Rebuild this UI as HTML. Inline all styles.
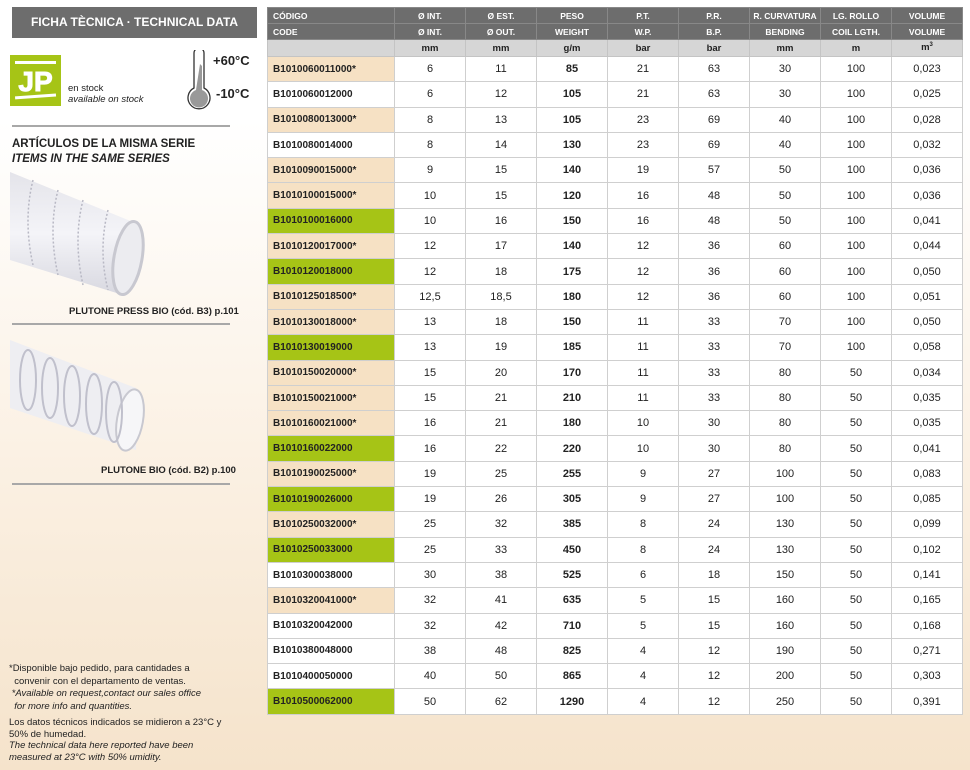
<!DOCTYPE html>
<html><head><meta charset="utf-8"><style>
*{margin:0;padding:0;box-sizing:border-box}
body{width:970px;height:770px;overflow:hidden;position:relative;font-family:"Liberation Sans",sans-serif;background:linear-gradient(#ffffff 0px,#ffffff 120px,#fbf1e4 450px,#f5e3cb 770px);}
.hd{position:absolute;left:12px;top:7px;width:245px;height:31px;background:#6d6d6d;color:#fff;font-weight:bold;font-size:12px;line-height:31px;text-align:center}
.jp{position:absolute;left:10px;top:55px;width:51px;height:51px;background:#a6c416}
.hr{position:absolute;left:12px;width:218px;height:2px;background:#a8a8a8}
.t{position:absolute;color:#222}
table{position:absolute;left:267px;top:7px;border-collapse:collapse;table-layout:fixed;font-size:11px}
td{border:1px solid #cfcfcf;text-align:center;color:#222;height:25.3px;background:#fff;overflow:hidden;white-space:nowrap}
tr.h td{background:#6d6d6d;color:#fff;font-weight:bold;font-size:8.5px;height:16px;border-color:#888}
tr.u td{background:#d6d6d6;font-weight:bold;font-size:9.5px;height:17px;border-color:#c4c4c4}
td.c{text-align:left;padding-left:5px;font-weight:bold;font-size:10px}
td.s{background:#f6e1c4}
td.g{background:#a6c416}
td.b{font-weight:bold}
</style></head><body>
<div class="hd">FICHA TÈCNICA · TECHNICAL DATA</div>
<div class="jp"><svg width="51" height="51" viewBox="0 0 51 51"><rect x="5" y="6" width="41" height="3" fill="#fff"/><text x="25.5" y="36" text-anchor="middle" font-family="Liberation Sans" font-weight="bold" font-size="28" fill="#fff" stroke="#fff" stroke-width="1">JP</text><rect x="5" y="40" width="41" height="3" fill="#fff" transform="rotate(-4 25 41)"/></svg></div>
<div class="t" style="left:68px;top:83px;font-size:9.5px;line-height:11px">en stock<br><i>available on stock</i></div>
<svg style="position:absolute;left:184px;top:50px" width="30" height="62" viewBox="0 0 30 62"><path d="M10 3 a5 5 0 0 1 10 0 V38 a11 11 0 1 1 -10 0 Z" fill="#fff" stroke="#333" stroke-width="1.3"/><path d="M16 14 L18 16 V40 a9 9 0 1 1 -6 0 Z" fill="#999"/></svg>
<div class="t" style="left:213px;top:53px;font-size:13px;font-weight:bold">+60°C</div>
<div class="t" style="left:216px;top:86px;font-size:13px;font-weight:bold">-10°C</div>
<div class="hr" style="top:125px"></div>
<div class="t" style="left:12px;top:137px;font-size:11.5px;font-weight:bold;line-height:15px">ARTÍCULOS DE LA MISMA SERIE<br><i>ITEMS IN THE SAME SERIES</i></div>
<svg style="position:absolute;left:8px;top:170px" width="140" height="135"><defs><linearGradient id="g1" x1="0" y1="0" x2="0" y2="1"><stop offset="0" stop-color="#e4e4ea"/><stop offset="0.5" stop-color="#f4f4f8"/><stop offset="1" stop-color="#d8d8e0"/></linearGradient></defs><polygon points="2,2 125,52 115,125 2,90" fill="url(#g1)"/><ellipse cx="120" cy="88" rx="14" ry="37" fill="#ececf0" stroke="#c8c8d0" stroke-width="3" transform="rotate(10 120 88)"/><g stroke="#b8b8c4" stroke-width="1.5" stroke-dasharray="2 2" fill="none"><path d="M25 10 q-10 40 0 85"/><path d="M50 20 q-10 40 0 85"/><path d="M75 30 q-10 40 0 85"/><path d="M100 40 q-10 40 0 80"/></g></svg>
<div class="t" style="left:69px;top:306px;font-size:9.5px;font-weight:bold">PLUTONE PRESS BIO (cód. B3) p.101</div>
<div class="hr" style="top:323px"></div>
<svg style="position:absolute;left:8px;top:338px" width="140" height="120"><polygon points="2,2 128,50 128,112 2,70" fill="#eeeef2"/><ellipse cx="122" cy="82" rx="13" ry="31" fill="#f6f6f8" stroke="#c8c8d0" stroke-width="2" transform="rotate(10 122 82)"/><g stroke="#c0c0cc" stroke-width="2" fill="none"><ellipse cx="20" cy="42" rx="8" ry="30"/><ellipse cx="42" cy="50" rx="8" ry="30"/><ellipse cx="64" cy="58" rx="8" ry="30"/><ellipse cx="86" cy="66" rx="8" ry="30"/><ellipse cx="106" cy="74" rx="8" ry="30"/></g></svg>
<div class="t" style="left:101px;top:465px;font-size:9.5px;font-weight:bold">PLUTONE BIO (cód. B2) p.100</div>
<div class="hr" style="top:483px"></div>
<div class="t" style="left:9px;top:663px;font-size:9.5px;line-height:12.5px">*Disponible bajo pedido, para cantidades a<br>&nbsp;&nbsp;convenir con el departamento de ventas.<br><i>&nbsp;*Available on request,contact our sales office<br>&nbsp;&nbsp;for more info and quantities.</i></div>
<div class="t" style="left:9px;top:717px;font-size:9.5px;line-height:11.5px">Los datos técnicos indicados se midieron a 23°C y<br>50% de humedad.<br><i>The technical data here reported have been<br>measured at 23°C with 50% umidity.</i></div>
<table>
<colgroup><col style="width:127px"><col style="width:71px"><col style="width:71px"><col style="width:71px"><col style="width:71px"><col style="width:71px"><col style="width:71px"><col style="width:71px"><col style="width:71px"></colgroup>
<tr class="h"><td class="c" style="font-size:8.5px">CÓDIGO</td><td>Ø INT.</td><td>Ø EST.</td><td>PESO</td><td>P.T.</td><td>P.R.</td><td>R. CURVATURA</td><td>LG. ROLLO</td><td>VOLUME</td></tr>
<tr class="h"><td class="c" style="font-size:8.5px">CODE</td><td>Ø INT.</td><td>Ø OUT.</td><td>WEIGHT</td><td>W.P.</td><td>B.P.</td><td>BENDING</td><td>COIL LGTH.</td><td>VOLUME</td></tr>
<tr class="u"><td></td><td>mm</td><td>mm</td><td>g/m</td><td>bar</td><td>bar</td><td>mm</td><td>m</td><td>m<sup style="font-size:6px">3</sup></td></tr>
<tr><td class="c s">B1010060011000*</td><td>6</td><td>11</td><td class="b">85</td><td>21</td><td>63</td><td>30</td><td>100</td><td>0,023</td></tr>
<tr><td class="c">B1010060012000</td><td>6</td><td>12</td><td class="b">105</td><td>21</td><td>63</td><td>30</td><td>100</td><td>0,025</td></tr>
<tr><td class="c s">B1010080013000*</td><td>8</td><td>13</td><td class="b">105</td><td>23</td><td>69</td><td>40</td><td>100</td><td>0,028</td></tr>
<tr><td class="c">B1010080014000</td><td>8</td><td>14</td><td class="b">130</td><td>23</td><td>69</td><td>40</td><td>100</td><td>0,032</td></tr>
<tr><td class="c s">B1010090015000*</td><td>9</td><td>15</td><td class="b">140</td><td>19</td><td>57</td><td>50</td><td>100</td><td>0,036</td></tr>
<tr><td class="c s">B1010100015000*</td><td>10</td><td>15</td><td class="b">120</td><td>16</td><td>48</td><td>50</td><td>100</td><td>0,036</td></tr>
<tr><td class="c g">B1010100016000</td><td>10</td><td>16</td><td class="b">150</td><td>16</td><td>48</td><td>50</td><td>100</td><td>0,041</td></tr>
<tr><td class="c s">B1010120017000*</td><td>12</td><td>17</td><td class="b">140</td><td>12</td><td>36</td><td>60</td><td>100</td><td>0,044</td></tr>
<tr><td class="c g">B1010120018000</td><td>12</td><td>18</td><td class="b">175</td><td>12</td><td>36</td><td>60</td><td>100</td><td>0,050</td></tr>
<tr><td class="c s">B1010125018500*</td><td>12,5</td><td>18,5</td><td class="b">180</td><td>12</td><td>36</td><td>60</td><td>100</td><td>0,051</td></tr>
<tr><td class="c s">B1010130018000*</td><td>13</td><td>18</td><td class="b">150</td><td>11</td><td>33</td><td>70</td><td>100</td><td>0,050</td></tr>
<tr><td class="c g">B1010130019000</td><td>13</td><td>19</td><td class="b">185</td><td>11</td><td>33</td><td>70</td><td>100</td><td>0,058</td></tr>
<tr><td class="c s">B1010150020000*</td><td>15</td><td>20</td><td class="b">170</td><td>11</td><td>33</td><td>80</td><td>50</td><td>0,034</td></tr>
<tr><td class="c s">B1010150021000*</td><td>15</td><td>21</td><td class="b">210</td><td>11</td><td>33</td><td>80</td><td>50</td><td>0,035</td></tr>
<tr><td class="c s">B1010160021000*</td><td>16</td><td>21</td><td class="b">180</td><td>10</td><td>30</td><td>80</td><td>50</td><td>0,035</td></tr>
<tr><td class="c g">B1010160022000</td><td>16</td><td>22</td><td class="b">220</td><td>10</td><td>30</td><td>80</td><td>50</td><td>0,041</td></tr>
<tr><td class="c s">B1010190025000*</td><td>19</td><td>25</td><td class="b">255</td><td>9</td><td>27</td><td>100</td><td>50</td><td>0,083</td></tr>
<tr><td class="c g">B1010190026000</td><td>19</td><td>26</td><td class="b">305</td><td>9</td><td>27</td><td>100</td><td>50</td><td>0,085</td></tr>
<tr><td class="c s">B1010250032000*</td><td>25</td><td>32</td><td class="b">385</td><td>8</td><td>24</td><td>130</td><td>50</td><td>0,099</td></tr>
<tr><td class="c g">B1010250033000</td><td>25</td><td>33</td><td class="b">450</td><td>8</td><td>24</td><td>130</td><td>50</td><td>0,102</td></tr>
<tr><td class="c">B1010300038000</td><td>30</td><td>38</td><td class="b">525</td><td>6</td><td>18</td><td>150</td><td>50</td><td>0,141</td></tr>
<tr><td class="c s">B1010320041000*</td><td>32</td><td>41</td><td class="b">635</td><td>5</td><td>15</td><td>160</td><td>50</td><td>0,165</td></tr>
<tr><td class="c">B1010320042000</td><td>32</td><td>42</td><td class="b">710</td><td>5</td><td>15</td><td>160</td><td>50</td><td>0,168</td></tr>
<tr><td class="c">B1010380048000</td><td>38</td><td>48</td><td class="b">825</td><td>4</td><td>12</td><td>190</td><td>50</td><td>0,271</td></tr>
<tr><td class="c">B1010400050000</td><td>40</td><td>50</td><td class="b">865</td><td>4</td><td>12</td><td>200</td><td>50</td><td>0,303</td></tr>
<tr><td class="c g">B1010500062000</td><td>50</td><td>62</td><td class="b">1290</td><td>4</td><td>12</td><td>250</td><td>50</td><td>0,391</td></tr>
</table>
</body></html>
